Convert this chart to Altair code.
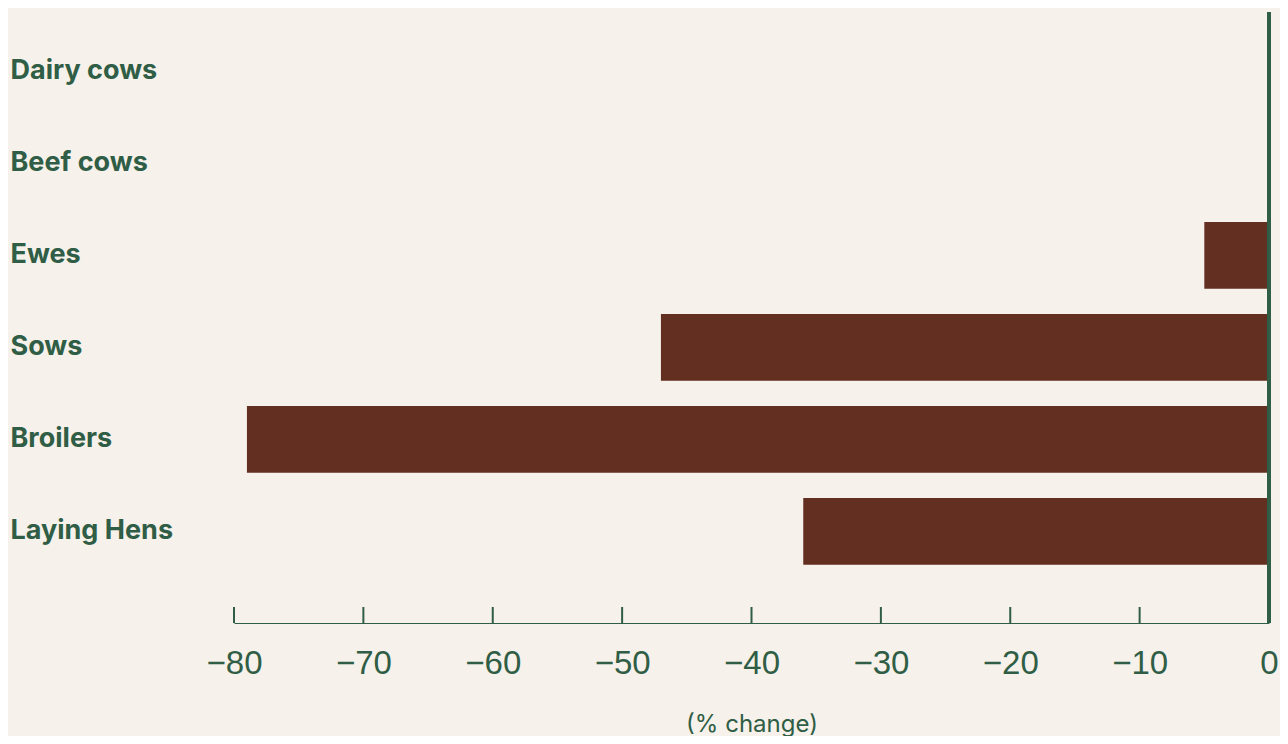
import altair as alt
import pandas as pd

categories = ["Dairy cows", "Beef cows", "Ewes", "Sows", "Broilers", "Laying Hens"]
values = [0, 0, -5, -47, -79, -36]
tick_values = [-80, -70, -60, -50, -40, -30, -20, -10, 0]

BG = "#F6F1EA"
BAR = "#622F20"
GREEN = "#2F5D45"

W = 1035
H = 611

df = pd.DataFrame({"category": categories, "value": values})
ticks_df = pd.DataFrame({"t": tick_values})

xscale = alt.Scale(domain=[-80, 0], nice=False)
yscale = alt.Scale(paddingInner=0.275, paddingOuter=0.458, align=0.308)

bars = alt.Chart(df).mark_bar(color=BAR).encode(
    x=alt.X(
        "value:Q",
        scale=xscale,
        axis=alt.Axis(
            values=tick_values,
            ticks=False,
            grid=False,
            domain=True,
            domainColor=GREEN,
            domainWidth=1.2,
            labelFont="Liberation Sans",
            labelFontSize=33,
            labelColor=GREEN,
            labelPadding=24,
            labelFlush=False,
            title="(% change)",
            titleFont="Inter",
            titleFontSize=24,
            titleFontWeight="normal",
            titleColor=GREEN,
            titleY=101,
            titleBaseline="middle",
        ),
    ),
    y=alt.Y(
        "category:N",
        sort=categories,
        scale=yscale,
        axis=alt.Axis(
            title=None,
            ticks=False,
            domain=False,
            grid=False,
            labelAlign="left",
            labelPadding=224,
            labelFont="Inter",
            labelFontWeight="bold",
            labelFontSize=27,
            labelColor=GREEN,
            labelLimit=0,
        ),
    ),
)

zero_rule = alt.Chart(df).mark_rule(color=GREEN, strokeWidth=3).encode(
    x=alt.datum(0, scale=xscale),
    y=alt.value(0),
    y2=alt.value(H),
)

tick_rules = alt.Chart(ticks_df).mark_rule(color=GREEN, strokeWidth=2).encode(
    x=alt.X("t:Q", scale=xscale),
    y=alt.value(H - 16),
    y2=alt.value(H),
)

chart = (
    alt.layer(bars, tick_rules, zero_rule)
    .properties(
        width=W,
        height=H,
        background=BG,
        padding={"left": 226, "top": 4, "right": 11, "bottom": 113},
        autosize=alt.AutoSizeParams(type="none"),
    )
    .configure_view(stroke=None)
)

chart.save("out.html", embed_options={"renderer": "svg", "actions": False})
